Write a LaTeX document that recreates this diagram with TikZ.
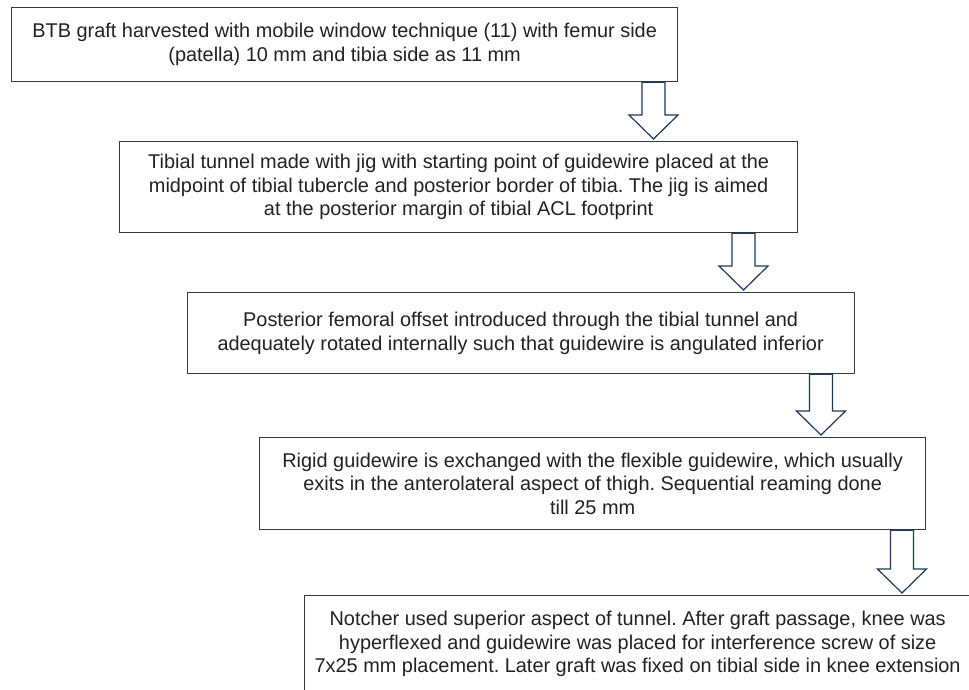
\documentclass[tikz,border=0pt]{standalone}
\usepackage{fontspec}
\setmainfont{Liberation Sans}
\usetikzlibrary{calc}
\frenchspacing
\definecolor{boxline}{HTML}{3A3A3A}
\definecolor{txt}{HTML}{222222}
\definecolor{arrowc}{HTML}{1F3A5C}
\tikzset{
  stepbox/.style={draw=boxline, line width=1.3pt, fill=white, anchor=north west,
    align=center, text=txt, inner xsep=2pt,
    font=\fontsize{19.9pt}{23.6pt}\selectfont\frenchspacing},
  blockarrow/.style={draw=arrowc, fill=white, line width=1.2pt, line join=miter,
    to path={let \p1=(\tikztostart), \p2=(\tikztotarget) in
      (\x1-11.5pt,\y1) -- (\x1-11.5pt,\y2+26pt) -- (\x1-24.5pt,\y2+26pt)
      -- (\x1,\y2+2pt) -- (\x1+24.5pt,\y2+26pt) -- (\x1+11.5pt,\y2+26pt)
      -- (\x1+11.5pt,\y1) -- cycle}}
}
\begin{document}
\begin{tikzpicture}[x=1pt,y=-1pt]
\useasboundingbox (0,0) rectangle (969,690);
\clip (0,0) rectangle (969,690);
\fill[white] (0,0) rectangle (969,690);

\node[stepbox, minimum width=666pt, minimum height=74pt] (b1) at (11,7)
  {BTB graft harvested with mobile window technique (11) with femur side\\
   (patella) 10 mm and tibia side as 11 mm};
\node[stepbox, minimum width=678pt, minimum height=91pt] (b2) at (119,141)
  {Tibial tunnel made with jig with starting point of guidewire placed at the\\
   midpoint of tibial tubercle and posterior border of tibia. The jig is aimed\\
   at the posterior margin of tibial ACL footprint};
\node[stepbox, minimum width=667pt, minimum height=81pt] (b3) at (186.5,292)
  {Posterior femoral offset introduced through the tibial tunnel and\\
   adequately rotated internally such that guidewire is angulated inferior};
\node[stepbox, minimum width=666pt, minimum height=92pt] (b4) at (259,437)
  {Rigid guidewire is exchanged with the flexible guidewire, which usually\\
   exits in the anterolateral aspect of thigh. Sequential reaming done\\
   till 25 mm};
\node[stepbox, minimum width=666pt, inner ysep=15.4pt, text depth=120pt] (b5) at (304,595)
  {Notcher used superior aspect of tunnel. After graft passage, knee was\\
   hyperflexed and guidewire was placed for interference screw of size\\
   7x25 mm placement. Later graft was fixed on tibial side in knee extension};

\coordinate (a1) at (653.5,0);
\coordinate (a2) at (743.5,0);
\coordinate (a3) at (821,0);
\coordinate (a4) at (902,0);

\draw[blockarrow] (b1.south -| a1) to (b2.north -| a1);
\draw[blockarrow] (b2.south -| a2) to (b3.north -| a2);
\draw[blockarrow] (b3.south -| a3) to (b4.north -| a3);
\draw[blockarrow] (b4.south -| a4) to (b5.north -| a4);
\end{tikzpicture}
\end{document}
